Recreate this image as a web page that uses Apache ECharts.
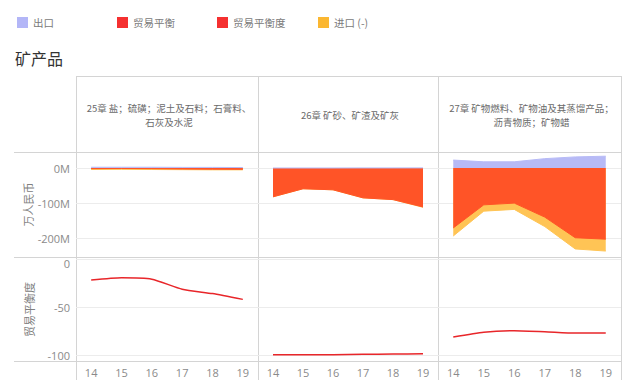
<!DOCTYPE html>
<html><head><meta charset="utf-8">
<script src="https://cdn.jsdelivr.net/npm/echarts@6/dist/echarts.min.js"></script>
<style>html,body{margin:0;padding:0;background:#fff}#c{width:640px;height:390px}</style>
</head><body><div id="c"></div>
<script>
// ---- data ----
const years = ['14', '15', '16', '17', '18', '19'];
const chapterTitles = [
  '25章 盐；硫磺；泥土及石料；石膏料、\n石灰及水泥',
  '26章 矿砂、矿渣及矿灰',
  '27章 矿物燃料、矿物油及其蒸馏产品；\n沥青物质；矿物蜡'
];
const legendNames = ['出口', '贸易平衡', '贸易平衡度', '进口 (-)'];
const pageTitle = '矿产品';
const valueAxisName = '万人民币';
const degreeAxisName = '贸易平衡度';
const valueTicks = [0, -100, -200];
const degreeTicks = [0, -50, -100];

// values in 百万 (M) of 万人民币; import shown as negative
const export25 = [2.5, 2.5, 2.5, 2, 2, 1.5];
const import25 = [-4, -3.5, -4, -4.5, -5, -5];
const balance25 = [-1.5, -1, -1.5, -2.5, -3, -3.5];
const degree25 = [-22, -19.5, -21, -31.5, -36, -42];

const export26 = [0.3, 0.3, 0.3, 0.5, 0.5, 0.6];
const import26 = [-82, -59, -62, -85, -90, -112];
const balance26 = [-82, -59, -62, -85, -90, -111];
const degree26 = [-99.5, -99.5, -99.4, -99, -98.8, -98.5];

const export27 = [23, 18, 18, 27, 32, 34];
const import27 = [-194, -123, -118, -167, -231, -237];
const balance27 = [-171, -105, -100, -140, -199, -203];
const degree27 = [-81, -76, -74.5, -75.5, -77, -77];

const panels = [
  { exp: export25, imp: import25, bal: balance25, deg: degree25 },
  { exp: export26, imp: import26, bal: balance26, deg: degree26 },
  { exp: export27, imp: import27, bal: balance27, deg: degree27 }
];

// ---- styles / layout ----
const C_EXPORT = '#b7baf6', C_BAL = '#ff5427', C_IMP = '#ffc455', C_DEG = '#e8262a';
const L_EXPORT = '#b3b6f7', L_BAL = '#f53030', L_IMP = '#fbb731';
const colL = [76, 258, 438], colR = [258, 438, 621];
const rowT = [152, 257], rowH = 105;
const CJK = '"Noto Sans CJK SC", sans-serif';
const NUM = '"Open Sans", "Noto Sans", sans-serif';
const borderC = '#d4d4d4';

const grid = [], xAxis = [], yAxis = [], series = [];
for (let r = 0; r < 2; r++) {
  for (let c = 0; c < 3; c++) {
    const i = r * 3 + c;
    grid.push({ left: colL[c], top: rowT[r], width: colR[c] - colL[c], height: rowH, containLabel: false });
    xAxis.push({
      type: 'category', gridIndex: i, data: years, boundaryGap: true,
      axisLine: { show: false }, axisTick: { show: false },
      axisLabel: { show: r === 1, color: '#8a8a8a', fontSize: 11, fontFamily: NUM, margin: 5 },
      splitLine: { show: false }
    });
    const isVal = r === 0;
    const ticks = isVal ? valueTicks : degreeTicks;
    yAxis.push({
      type: 'value', gridIndex: i,
      min: isVal ? -254 : -107, max: isVal ? 46 : 2,
      name: c === 0 ? (isVal ? valueAxisName : degreeAxisName) : '',
      nameLocation: 'middle', nameRotate: 90, nameGap: 42,
      nameTextStyle: { color: '#808080', fontSize: 11, fontFamily: CJK },
      axisLine: { show: false },
      axisTick: { show: false, customValues: ticks },
      axisLabel: {
        show: c === 0, customValues: ticks, color: '#8a8a8a', fontSize: 11, fontFamily: NUM, margin: 6,
        formatter: v => isVal ? (v + 'M') : (v === 0 ? '{t|0}' : String(v)),
        rich: { t: { padding: [9, 0, 0, 0], color: '#8a8a8a', fontSize: 11, fontFamily: NUM } }
      },
      splitLine: { show: true, lineStyle: { color: '#ececec', width: 1 } }
    });
    const p = panels[c];
    if (isVal) {
      series.push({ name: legendNames[3], type: 'line', xAxisIndex: i, yAxisIndex: i, data: p.imp,
        showSymbol: false, z: 2, lineStyle: { color: C_IMP, width: 1 }, itemStyle: { color: C_IMP },
        areaStyle: { color: C_IMP, opacity: 1 } });
      series.push({ name: legendNames[1], type: 'line', xAxisIndex: i, yAxisIndex: i, data: p.bal,
        showSymbol: false, z: 3, lineStyle: { color: C_BAL, width: 1 }, itemStyle: { color: C_BAL },
        areaStyle: { color: C_BAL, opacity: 1 } });
      series.push({ name: legendNames[0], type: 'line', xAxisIndex: i, yAxisIndex: i, data: p.exp,
        showSymbol: false, z: 4, lineStyle: { color: C_EXPORT, width: 1 }, itemStyle: { color: C_EXPORT },
        areaStyle: { color: C_EXPORT, opacity: 1 } });
    } else {
      series.push({ name: legendNames[2], type: 'line', xAxisIndex: i, yAxisIndex: i, data: p.deg,
        showSymbol: false, smooth: 0.2, lineStyle: { color: C_DEG, width: 1.5 }, itemStyle: { color: C_DEG } });
    }
  }
}

// ---- graphics: legend, title, headers, borders ----
const graphic = [];
const legendColors = [L_EXPORT, L_BAL, L_BAL, L_IMP];
const legendX = [17, 117, 217, 318];
legendNames.forEach((n, k) => {
  graphic.push({ type: 'rect', shape: { x: legendX[k], y: 17, width: 11, height: 11 }, style: { fill: legendColors[k] } });
  graphic.push({ type: 'text', x: legendX[k] + 16, y: 22.5, style: { text: n, fill: '#7a7a7a', font: '10.5px ' + CJK, verticalAlign: 'middle', align: 'left' } });
});
graphic.push({ type: 'text', x: 15, y: 58, style: { text: pageTitle, fill: '#333', font: '16px ' + CJK, verticalAlign: 'middle' } });
chapterTitles.forEach((t, c) => {
  graphic.push({ type: 'text', x: (colL[c] + colR[c]) / 2 + 2, y: 115, style: { text: t, fill: '#6a6a6a', font: '9.5px ' + CJK, align: 'center', verticalAlign: 'middle', lineHeight: 14 } });
});
function hline(y, x1, x2) { graphic.push({ type: 'line', shape: { x1, y1: y + 0.5, x2, y2: y + 0.5 }, style: { stroke: borderC, lineWidth: 1 } }); }
function vline(x, y1, y2) { graphic.push({ type: 'line', shape: { x1: x + 0.5, y1, x2: x + 0.5, y2 }, style: { stroke: borderC, lineWidth: 1 } }); }
hline(76, 76, 622);
hline(152, 14, 622);
hline(257, 14, 622);
hline(361, 14, 622);
[76, 258, 438, 621].forEach(x => vline(x, 76, 380));

const chart = echarts.init(document.getElementById('c'), null, { renderer: 'svg', width: 640, height: 390 });
chart.setOption({
  animation: false,
  backgroundColor: '#fff',
  grid, xAxis, yAxis, series, graphic
});
</script></body></html>
